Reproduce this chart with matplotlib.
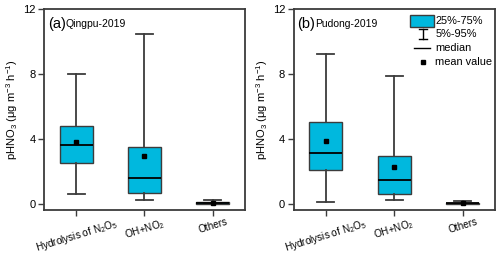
import matplotlib
matplotlib.use("Agg")
import matplotlib.pyplot as plt
from matplotlib.patches import Rectangle
from matplotlib.lines import Line2D

plt.rcParams['font.family'] = ['Liberation Sans', 'DejaVu Sans']
plt.rcParams['mathtext.fontset'] = 'custom'
plt.rcParams['mathtext.rm'] = 'Liberation Sans'
plt.rcParams['mathtext.it'] = 'Liberation Sans:italic'

categories = ["Hydrolysis of N$_2$O$_5$", "OH+NO$_2$", "Others"]

# Panel (a) Qingpu-2019
a_p5 = [0.59, 0.22, 0.00]
a_q1 = [2.53, 0.65, 0.02]
a_med = [3.63, 1.61, 0.05]
a_q3 = [4.79, 3.53, 0.10]
a_p95 = [7.97, 10.45, 0.24]
a_mean = [3.81, 2.94, 0.07]

# Panel (b) Pudong-2019
b_p5 = [0.14, 0.22, 0.00]
b_q1 = [2.08, 0.59, 0.02]
b_med = [3.14, 1.47, 0.05]
b_q3 = [5.06, 2.92, 0.08]
b_p95 = [9.22, 7.90, 0.15]
b_mean = [3.86, 2.28, 0.06]

box_color = '#00B8DE'
edge = '#3c3c3c'

fig = plt.figure(figsize=(5.0, 2.56), dpi=100)
ax1 = fig.add_axes([0.088, 0.18, 0.402, 0.785])
ax2 = fig.add_axes([0.587, 0.18, 0.403, 0.785])


def draw(ax, p5, q1, med, q3, p95, mean):
    stats = []
    for i in range(len(categories)):
        stats.append(dict(whislo=p5[i], q1=q1[i], med=med[i], q3=q3[i],
                          whishi=p95[i], mean=mean[i], fliers=[], label=categories[i]))
    ax.bxp(stats, positions=[1, 2, 3], widths=0.48, patch_artist=True,
           showmeans=True, showfliers=False,
           boxprops=dict(facecolor=box_color, edgecolor=edge, linewidth=1.0),
           medianprops=dict(color='black', linewidth=1.3),
           whiskerprops=dict(color=edge, linewidth=1.3),
           capprops=dict(color=edge, linewidth=1.3),
           capwidths=0.25,
           meanprops=dict(marker='s', markerfacecolor='black', markeredgecolor='black',
                          markersize=3.2))
    ax.set_xlim(0.53, 3.47)
    ax.set_ylim(-0.37, 12)
    ax.set_yticks([0, 4, 8, 12])
    ax.set_xticks([1, 2, 3])
    ax.tick_params(axis='both', direction='out', length=4, width=1.0, color=edge,
                   labelsize=8, pad=2)
    ax.set_xticklabels(categories, rotation=17, ha='center', fontsize=7.2)
    ax.tick_params(axis='x', pad=1)
    for s in ax.spines.values():
        s.set_color(edge)
        s.set_linewidth(1.3)
    ax.set_ylabel("pHNO$_3$ (μg m$^{-3}$ h$^{-1}$)", fontsize=8, labelpad=2)


draw(ax1, a_p5, a_q1, a_med, a_q3, a_p95, a_mean)
draw(ax2, b_p5, b_q1, b_med, b_q3, b_p95, b_mean)

ax1.text(0.02, 0.96, "(a)", transform=ax1.transAxes, fontsize=10.5, va='top', ha='left')
ax1.text(0.105, 0.95, "Qingpu-2019", transform=ax1.transAxes, fontsize=7.5, va='top', ha='left')
ax2.text(0.02, 0.96, "(b)", transform=ax2.transAxes, fontsize=10.5, va='top', ha='left')
ax2.text(0.105, 0.95, "Pudong-2019", transform=ax2.transAxes, fontsize=7.5, va='top', ha='left')

# custom legend in panel (b), axes coordinates
tr = ax2.transAxes
lfs = 7.9
ax2.add_patch(Rectangle((0.579, 0.912), 0.116, 0.058, transform=tr,
                        facecolor=box_color, edgecolor=edge, linewidth=1.0))
ax2.text(0.703, 0.94, "25%-75%", transform=tr, fontsize=lfs, va='center', ha='left')
ax2.add_line(Line2D([0.642, 0.642], [0.85, 0.90], transform=tr, color='black', lw=1.0))
ax2.add_line(Line2D([0.623, 0.661], [0.90, 0.90], transform=tr, color='black', lw=1.0))
ax2.add_line(Line2D([0.623, 0.661], [0.85, 0.85], transform=tr, color='black', lw=1.0))
ax2.text(0.703, 0.877, "5%-95%", transform=tr, fontsize=lfs, va='center', ha='left')
ax2.add_line(Line2D([0.60, 0.675], [0.807, 0.807], transform=tr, color='black', lw=1.0))
ax2.text(0.703, 0.807, "median", transform=tr, fontsize=lfs, va='center', ha='left')
ax2.add_line(Line2D([0.645], [0.738], transform=tr, color='black', marker='s',
                    markersize=3.2, linestyle='none'))
ax2.text(0.703, 0.738, "mean value", transform=tr, fontsize=lfs, va='center', ha='left')

fig.savefig("out.png", dpi=100)
